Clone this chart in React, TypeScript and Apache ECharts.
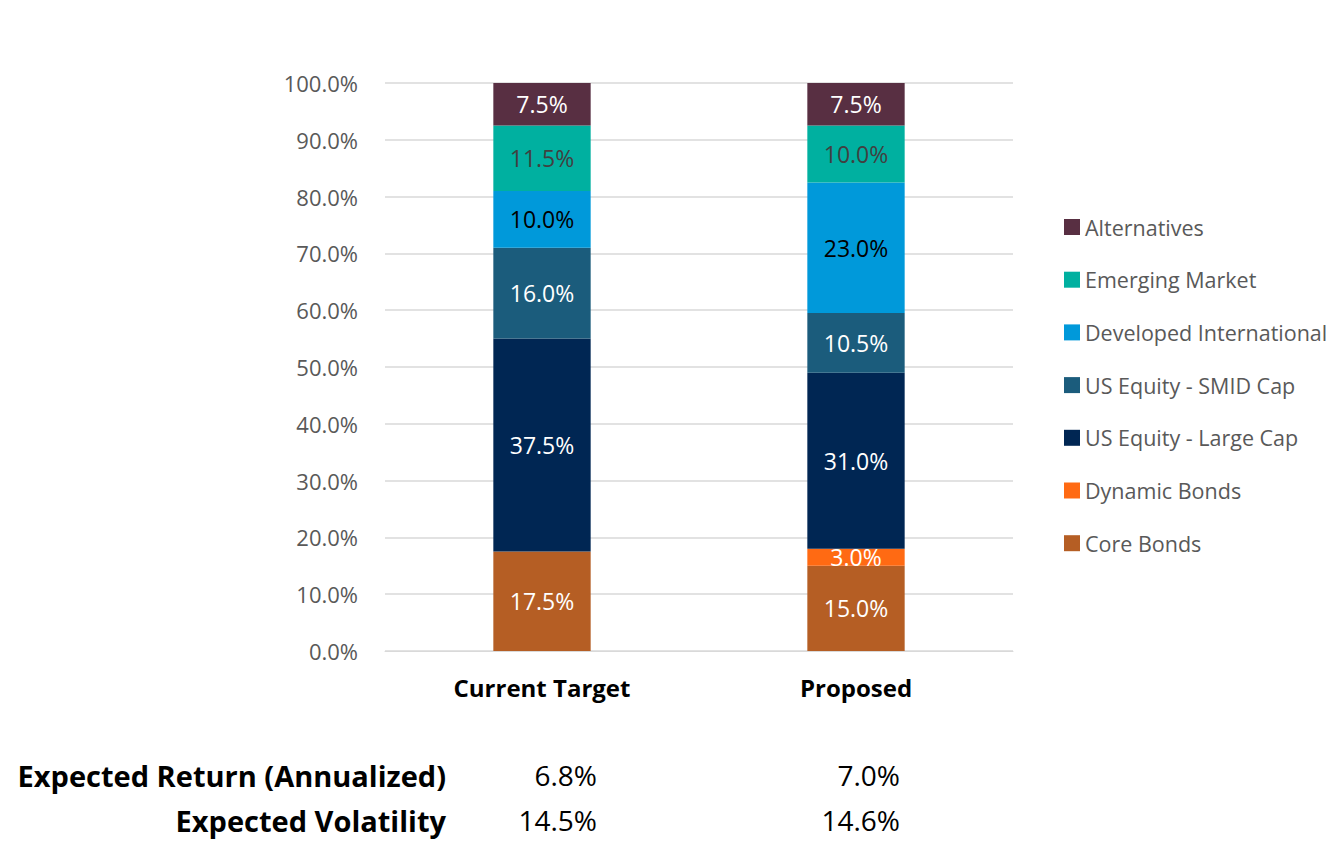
import React, { useEffect, useRef } from "react";
import * as echarts from "echarts";

const categories = ["Current Target", "Proposed"];
const seriesNames = [
  "Core Bonds",
  "Dynamic Bonds",
  "US Equity - Large Cap",
  "US Equity - SMID Cap",
  "Developed International",
  "Emerging Market",
  "Alternatives",
];
const coreBonds = [17.5, 15.0];
const dynamicBonds = [0, 3.0];
const largeCap = [37.5, 31.0];
const smidCap = [16.0, 10.5];
const developedIntl = [10.0, 23.0];
const emergingMarket = [11.5, 10.0];
const alternatives = [7.5, 7.5];
const seriesValues = [coreBonds, dynamicBonds, largeCap, smidCap, developedIntl, emergingMarket, alternatives];
const seriesColors = ["#B55E24", "#FF6A13", "#002653", "#1B5C7C", "#0099DA", "#00B0A0", "#582F42"];
const labelColors = ["#FFFFFF", "#FFFFFF", "#FFFFFF", "#FFFFFF", "#000000", "#404040", "#FFFFFF"];
const statLabels = ["Expected Return (Annualized)", "Expected Volatility"];
const currentStats = ["6.8%", "14.5%"];
const proposedStats = ["7.0%", "14.6%"];

const FONT = "'Open Sans', Lato, sans-serif";

export default function App() {
  const ref = useRef<HTMLDivElement>(null);
  useEffect(() => {
    if (!ref.current) return;
    const chart = echarts.init(ref.current, undefined, { renderer: "svg" });
    const statY = [775, 820];
    const graphics: any[] = [];
    statLabels.forEach((t, i) => {
      graphics.push({
        type: "text",
        x: 446,
        y: statY[i],
        style: { text: t, fill: "#000", font: `bold 29px ${FONT}`, align: "right", verticalAlign: "middle" },
      });
      graphics.push({
        type: "text",
        x: 597,
        y: statY[i],
        style: { text: currentStats[i], fill: "#000", font: `28px ${FONT}`, align: "right", verticalAlign: "middle" },
      });
      graphics.push({
        type: "text",
        x: 900,
        y: statY[i],
        style: { text: proposedStats[i], fill: "#000", font: `28px ${FONT}`, align: "right", verticalAlign: "middle" },
      });
    });
    chart.setOption({
      animation: false,
      backgroundColor: "#FFFFFF",
      textStyle: { fontFamily: FONT },
      grid: { left: 385, right: 321, top: 83, bottom: 192, containLabel: false },
      legend: {
        orient: "vertical",
        left: 1059,
        top: 211,
        itemWidth: 16,
        itemHeight: 16,
        itemGap: 30.7,
        icon: "rect",
        data: [...seriesNames].reverse(),
        textStyle: { fontSize: 21.5, color: "#595959", fontFamily: FONT },
      },
      xAxis: {
        type: "category",
        data: categories,
        axisTick: { show: false },
        axisLine: { lineStyle: { color: "#D9D9D9" } },
        axisLabel: { fontSize: 24, fontWeight: "bold", color: "#000", margin: 24, fontFamily: FONT },
      },
      yAxis: {
        type: "value",
        min: 0,
        max: 100,
        interval: 10,
        axisLabel: {
          formatter: (v: number) => v.toFixed(1) + "%",
          fontSize: 22,
          color: "#595959",
          margin: 27,
          fontFamily: FONT,
        },
        splitLine: { lineStyle: { color: "#D9D9D9", width: 1.5 } },
        axisLine: { show: false },
        axisTick: { show: false },
      },
      series: seriesNames.map((name, i) => ({
        name,
        type: "bar",
        stack: "total",
        barWidth: "31%",
        data: seriesValues[i],
        itemStyle: { color: seriesColors[i] },
        label: {
          show: true,
          position: "inside",
          fontSize: 23,
          color: labelColors[i],
          fontFamily: FONT,
          formatter: (p: any) => (p.value > 0 ? Number(p.value).toFixed(1) + "%" : ""),
        },
      })),
      graphic: graphics,
    });
    return () => chart.dispose();
  }, []);
  return (
    <div
      ref={ref}
      style={{ position: "fixed", left: 0, top: 0, width: 1334, height: 843 }}
    />
  );
}
